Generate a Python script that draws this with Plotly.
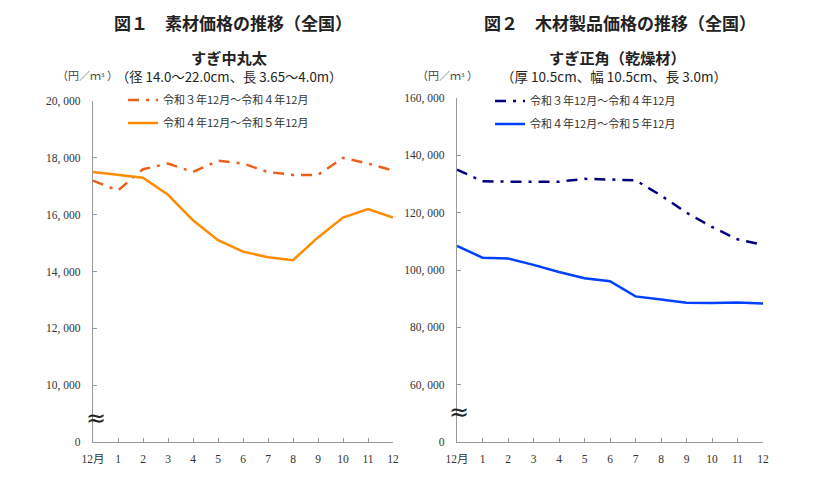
import plotly.graph_objects as go

months = list(range(13))
month_labels = ["12月", "1", "2", "3", "4", "5", "6", "7", "8", "9", "10", "11", "12"]

# Fig 1: すぎ中丸太 (円/m3)
log_r3 = [17200, 16850, 17600, 17800, 17500, 17900, 17800, 17500, 17400, 17400, 18000, 17800, 17550]
log_r4 = [17500, 17400, 17300, 16700, 15800, 15100, 14700, 14500, 14400, 15200, 15900, 16200, 15900]

# Fig 2: すぎ正角（乾燥材） (円/m3)
lum_r3 = [135000, 131000, 130800, 130800, 130800, 131800, 131500, 131300, 126000, 120000, 115000, 110700, 108800]
lum_r4 = [108400, 104300, 104000, 101800, 99300, 97100, 96100, 90800, 89700, 88600, 88500, 88700, 88300]

y1_ticks = [8000, 10000, 12000, 14000, 16000, 18000, 20000]
y1_text = ["0", "10, 000", "12, 000", "14, 000", "16, 000", "18, 000", "20, 000"]
y2_ticks = [40000, 60000, 80000, 100000, 120000, 140000, 160000]
y2_text = ["0", "60, 000", "80, 000", "100, 000", "120, 000", "140, 000", "160, 000"]

name_r3 = "令和３年12月～令和４年12月"
name_r4 = "令和４年12月～令和５年12月"

JP = "Noto Sans CJK JP"
SERIF = "Liberation Serif, Noto Sans CJK JP"
DASHDOT = "11px,7px,3px,7px"

fig = go.Figure()
fig.add_trace(go.Scatter(x=months, y=log_r3, mode="lines", name=name_r3,
                         line=dict(color="#E8601C", width=2.5, dash=DASHDOT),
                         xaxis="x", yaxis="y", legend="legend"))
fig.add_trace(go.Scatter(x=months, y=log_r4, mode="lines", name=name_r4,
                         line=dict(color="#FF8C00", width=2.5),
                         xaxis="x", yaxis="y", legend="legend2"))
fig.add_trace(go.Scatter(x=months, y=lum_r3, mode="lines", name=name_r3,
                         line=dict(color="#000080", width=2.5, dash=DASHDOT),
                         xaxis="x2", yaxis="y2", legend="legend3"))
fig.add_trace(go.Scatter(x=months, y=lum_r4, mode="lines", name=name_r4,
                         line=dict(color="#0040FF", width=2.5),
                         xaxis="x2", yaxis="y2", legend="legend4"))

# page body has an 8px margin; figure sized to fit the 820x486 window
OFF = 8
W, H = 820 - 2 * OFF, 486 - 2 * OFF
def px_x(p):
    return (p - OFF) / W
def px_y(p):
    return 1 - (p - OFF) / H

axis_common = dict(showgrid=False, zeroline=False, showline=True, linecolor="#999999",
                   linewidth=1.2, ticks="inside", ticklen=4, tickcolor="#999999", automargin=False,
                   tickfont=dict(family=SERIF, size=11.5, color="#333333"))

leg_common = dict(bgcolor="rgba(0,0,0,0)", font=dict(family=JP, size=11, color="#333333"),
                  xanchor="left", yanchor="middle", itemwidth=30, tracegroupgap=0)

fig.update_layout(
    width=W, height=H, margin=dict(l=0, r=0, t=0, b=0, autoexpand=False),
    paper_bgcolor="white", plot_bgcolor="white", showlegend=True,
    xaxis=dict(domain=[px_x(93), px_x(393)], range=[0, 12], tickvals=months, ticktext=month_labels,
               anchor="y", ticklabelstandoff=6, **axis_common),
    yaxis=dict(domain=[px_y(442), px_y(101)], range=[8000, 20000], tickvals=y1_ticks, ticktext=y1_text,
               anchor="x", ticklabelstandoff=9, **axis_common),
    xaxis2=dict(domain=[px_x(457), px_x(763)], range=[0, 12], tickvals=months, ticktext=month_labels,
                anchor="y2", ticklabelstandoff=6, **axis_common),
    yaxis2=dict(domain=[px_y(442), px_y(98)], range=[40000, 160000], tickvals=y2_ticks, ticktext=y2_text,
                anchor="x2", ticklabelstandoff=9, **axis_common),
    legend=dict(x=px_x(123), y=px_y(100), **leg_common),
    legend2=dict(x=px_x(123), y=px_y(123), **leg_common),
    legend3=dict(x=px_x(490), y=px_y(101), **leg_common),
    legend4=dict(x=px_x(490), y=px_y(124), **leg_common),
)

annots = [
    dict(x=px_x(233), y=px_y(22), text="<b>図１　素材価格の推移（全国）</b>", font=dict(family=JP, size=17, color="#222")),
    dict(x=px_x(229), y=px_y(57), text="<b>すぎ中丸太</b>", font=dict(family=JP, size=15.2, color="#222")),
    dict(x=px_x(229), y=px_y(76), text="（径 14.0～22.0cm、長 3.65～4.0m）", font=dict(family=JP, size=13.3, color="#222")),
    dict(x=px_x(87), y=px_y(76), text="（円／ｍ³ ）", font=dict(family=SERIF, size=11, color="#444")),
    dict(x=px_x(620), y=px_y(22), text="<b>図２　木材製品価格の推移（全国）</b>", font=dict(family=JP, size=17, color="#222")),
    dict(x=px_x(617), y=px_y(57), text="<b>すぎ正角（乾燥材）</b>", font=dict(family=JP, size=15.2, color="#222")),
    dict(x=px_x(614), y=px_y(76), text="（厚 10.5cm、幅 10.5cm、長 3.0m）", font=dict(family=JP, size=13.5, color="#222")),
    dict(x=px_x(448), y=px_y(76), text="（円／ｍ³ ）", font=dict(family=SERIF, size=11, color="#444")),
    dict(x=px_x(96), y=px_y(418), text="≈", font=dict(family="DejaVu Sans", size=24, color="#222")),
    dict(x=px_x(459), y=px_y(412), text="≈", font=dict(family="DejaVu Sans", size=24, color="#222")),
]
for a in annots:
    a.update(xref="paper", yref="paper", showarrow=False, xanchor="center", yanchor="middle")
fig.update_layout(annotations=annots)

fig.write_html("out.html")
